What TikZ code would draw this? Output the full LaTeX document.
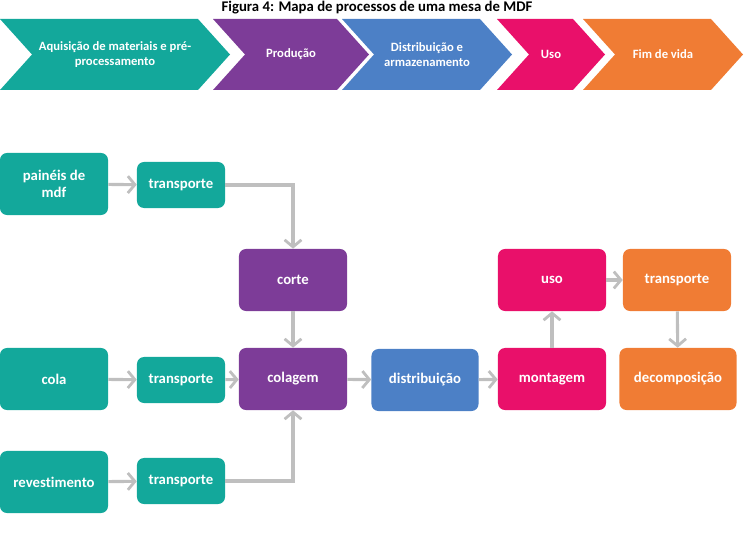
\documentclass[tikz,border=0pt]{standalone}
\usepackage{fontspec}
\setmainfont[Ligatures=NoCommon]{Carlito}
\usetikzlibrary{positioning}
\usetikzlibrary{arrows.meta}

\definecolor{mdfteal}{HTML}{13A89B}
\definecolor{mdfpurple}{HTML}{7D3C98}
\definecolor{mdfblue}{HTML}{4C80C6}
\definecolor{mdfpink}{HTML}{E9106A}
\definecolor{mdforange}{HTML}{F07C34}
\definecolor{mdfarrow}{HTML}{BFBFBF}

\tikzset{
  box/.style={rounded corners=5pt,text=white,align=center,
    font=\fontsize{10.5}{12.5}\selectfont\bfseries,
    minimum width=2.7cm,minimum height=1.55cm,inner sep=2pt},
  smallbox/.style={box,minimum width=2.2cm,minimum height=1.15cm},
  flow/.style={draw=mdfarrow,line width=2.2pt,
    -{Straight Barb[length=5pt,width=12pt,line width=2pt]}}
}

\begin{document}
\begin{tikzpicture}[x=0.025cm,y=-0.025cm]
 \useasboundingbox (0,0) rectangle (755,550);
 \node[font=\fontsize{10.5}{12}\selectfont\bfseries] (title) at (377,8) {Figura 4: Mapa de processos de uma mesa de MDF};

 % fases do ciclo de vida
 \foreach \l/\r/\c/\t in {0/198/mdfteal/{Aquisição de materiais e pré-\\processamento},
   213/337/mdfpurple/{Produção},
   342/480/mdfblue/{Distribuição e\\armazenamento},
   497/573/mdfpink/{Uso},
   583/711/mdforange/{Fim de vida}}{
   \fill[\c](\l,19)--(\r,19)--(\r+32,54.5)--(\r,90)--(\l,90)--(\l+32,54.5)--cycle;
   \node[text=white,align=center,font=\fontsize{9}{11}\selectfont\bfseries] at ({(\l+\r+32)/2},54.5) {\t};
 }

 % entradas
 \node[box,fill=mdfteal] (paineis) at (54,184) {painéis de\\mdf};
 \node[smallbox,fill=mdfteal] (transpA) at (181,185) {transporte};
 \node[box,fill=mdfteal] (cola) at (54,379) {cola};
 \node[smallbox,fill=mdfteal] (transpB) at (181,380) {transporte};
 \node[box,fill=mdfteal] (revest) at (54,482) {revestimento};
 \node[smallbox,fill=mdfteal] (transpC) at (181,481) {transporte};

 % producao
 \node[box,fill=mdfpurple] (corte) at (293,280) {corte};
 \node[box,fill=mdfpurple] (colagem) at (293,379) {colagem};

 % distribuicao, uso e fim de vida
 \node[box,fill=mdfblue,minimum width=2.675cm] (distrib) at (425,380) {distribuição};
 \node[box,fill=mdfpink] (montagem) at (552,379) {montagem};
 \node[box,fill=mdfpink] (uso) at (552,280) {uso};
 \node[box,fill=mdforange] (transpD) at (677,280) {transporte};
 \node[box,fill=mdforange,minimum width=2.925cm] (decomp) at (678,379) {decomposição};

 \draw[flow] (paineis) -- (transpA);
 \draw[flow] (transpA.east) -| (corte.north);
 \draw[flow] (corte) -- (colagem);
 \draw[flow] (cola) -- (transpB);
 \draw[flow] (transpB) -- (colagem);
 \draw[flow] (revest) -- (transpC);
 \draw[flow] (transpC.east) -| (colagem.south);
 \draw[flow] (colagem) -- (distrib);
 \draw[flow] (distrib) -- (montagem);
 \draw[flow] (montagem) -- (uso);
 \draw[flow] (uso) -- (transpD);
 \draw[flow] (transpD) -- (decomp);
\end{tikzpicture}
\end{document}
